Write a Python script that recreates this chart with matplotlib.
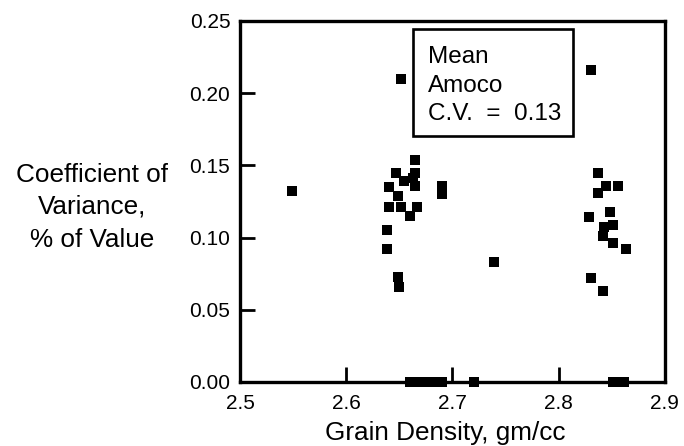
import matplotlib
matplotlib.use("Agg")
import matplotlib.pyplot as plt
from matplotlib.patches import Rectangle

plt.rcParams['font.family'] = ['Liberation Sans', 'DejaVu Sans']

# Grain density (gm/cc) and coefficient of variance for each sample
grain_density = [
    2.549, 2.652, 2.830, 2.739, 2.690, 2.690,
    2.665, 2.665, 2.647, 2.654, 2.663, 2.665, 2.640, 2.649, 2.640,
    2.652, 2.667, 2.660, 2.638, 2.638, 2.649, 2.650,
    2.837, 2.845, 2.856, 2.837, 2.829, 2.848, 2.851, 2.843, 2.842,
    2.851, 2.863, 2.830, 2.842,
    2.660, 2.667, 2.673, 2.679, 2.685, 2.690, 2.720, 2.851, 2.857, 2.862,
]
coef_variance = [
    0.132, 0.210, 0.216, 0.083, 0.136, 0.130,
    0.154, 0.145, 0.145, 0.139, 0.141, 0.136, 0.135, 0.129, 0.121,
    0.121, 0.121, 0.115, 0.105, 0.092, 0.073, 0.066,
    0.145, 0.136, 0.136, 0.131, 0.114, 0.118, 0.109, 0.107, 0.101,
    0.096, 0.092, 0.072, 0.063,
    0.0, 0.0, 0.0, 0.0, 0.0, 0.0, 0.0, 0.0, 0.0, 0.0,
]
x_ticks = [2.5, 2.6, 2.7, 2.8, 2.9]
y_ticks = [0.00, 0.05, 0.10, 0.15, 0.20, 0.25]
mean_cv = 0.13

fig = plt.figure(figsize=(6.84, 4.46), dpi=100)
ax = fig.add_axes([0.351, 0.1435, 0.621, 0.8095])

ax.scatter(grain_density, coef_variance, marker='s', s=52, color='black',
           linewidths=0, clip_on=False, zorder=3)

ax.set_xlim(2.5, 2.9)
ax.set_ylim(0.0, 0.25)
ax.set_xticks(x_ticks)
ax.set_xticklabels([f"{v:.1f}" for v in x_ticks])
ax.set_yticks(y_ticks)
ax.set_yticklabels([f"{v:.2f}" for v in y_ticks])

for sp in ax.spines.values():
    sp.set_linewidth(2.4)
ax.tick_params(axis='both', direction='in', length=11, width=2,
               labelsize=15)
ax.tick_params(axis='x', pad=8.5)
ax.tick_params(axis='y', pad=7)

# Boxed annotation with the mean coefficient of variance
ax.add_patch(Rectangle((0.406, 0.681), 0.3775, 0.297, transform=ax.transAxes,
                       facecolor='white', edgecolor='black', linewidth=1.9,
                       zorder=4))
box_lines = ["Mean", "Amoco", f"C.V.  =  {mean_cv:.2f}"]
for line, yb in zip(box_lines, [0.8837, 0.803, 0.7258]):
    ax.text(0.442, yb, line, transform=ax.transAxes, ha='left',
            va='baseline', fontsize=17.5, zorder=5)

for line, yb in zip(["Coefficient of", "Variance,", "% of Value"],
                    [0.592, 0.521, 0.446]):
    fig.text(0.1345, yb, line, ha='center', va='baseline', fontsize=18.8)

fig.text(0.6506, 0.0135, "Grain Density, gm/cc", ha='center',
         va='baseline', fontsize=18.8)

fig.savefig("out.png", dpi=100)
